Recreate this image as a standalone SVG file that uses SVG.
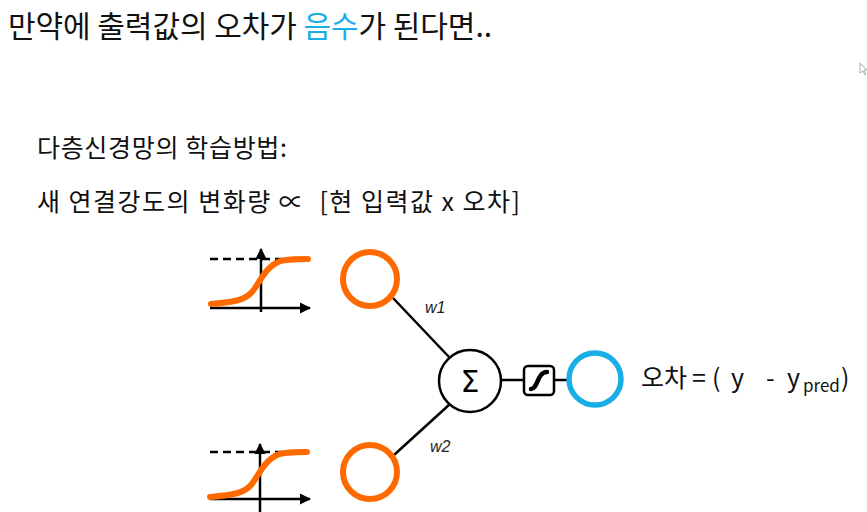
<svg xmlns="http://www.w3.org/2000/svg" width="867" height="512" viewBox="0 0 867 512">
<defs>
<style>
.t{font-family:"Noto Sans CJK KR","Noto Sans",sans-serif;fill:#111}
.ax{stroke:#000;stroke-width:2.5;fill:none}
.dash{stroke:#000;stroke-width:2.5;stroke-dasharray:8 5;fill:none}
.sig{stroke:#FF6A00;stroke-width:6;fill:none;stroke-linecap:round}
.in{stroke:#FF6A00;stroke-width:6;fill:#fff}
.out{stroke:#1AAEE6;stroke-width:5.5;fill:#fff}
.ln{stroke:#000;stroke-width:2.5;fill:none}
.w{font-family:"Liberation Sans",Arial,sans-serif;font-style:italic;font-size:16px;fill:#222}
</style>
<marker id="ah" viewBox="0 0 10 10" refX="9" refY="5" markerWidth="4.5" markerHeight="4.5" orient="auto" markerUnits="strokeWidth">
<path d="M0,0 L10,5 L0,10 z" fill="#000"/>
</marker>
</defs>
<rect width="867" height="512" fill="#fff"/>
<text class="t" x="8" y="37" font-size="30" textLength="484" lengthAdjust="spacing">만약에 출력값의 오차가 <tspan fill="#1AAEE6">음수</tspan>가 된다면..</text>
<text class="t" x="37" y="157" font-size="25" textLength="250" lengthAdjust="spacing">다층신경망의 학습방법:</text>
<text class="t" x="37" y="211" font-size="25" textLength="483" lengthAdjust="spacing" xml:space="preserve">새 연결강도의 변화량 ∝  [현 입력값 x 오차]</text>
<path d="M860,63 L860,73 L863,71 L865,75 L866,74 L864,70 L867,70 Z" fill="#fff" stroke="#999" stroke-width="0.8"/>
<g id="plot1">
<line class="dash" x1="210" y1="259" x2="312" y2="259"/>
<line class="ax" x1="261" y1="312" x2="261" y2="249" marker-end="url(#ah)"/>
<line class="ax" x1="210" y1="308" x2="310" y2="308" marker-end="url(#ah)"/>
<path class="sig" d="M211,304 C235,302 245,300 252,292 C260,282 265,268 278,262 C285,259 295,259 308,259"/>
</g>
<g id="plot2">
<line class="dash" x1="210" y1="452" x2="312" y2="452"/>
<line class="ax" x1="260" y1="512" x2="260" y2="444" marker-end="url(#ah)"/>
<line class="ax" x1="210" y1="499" x2="310" y2="499" marker-end="url(#ah)"/>
<path class="sig" d="M210,497 C234,495 244,493 251,485 C259,475 264,461 277,455 C284,452 294,452 307,452"/>
</g>
<g id="connectors">
<line class="ln" x1="393" y1="298" x2="449" y2="357"/>
<line class="ln" x1="394" y1="455" x2="450" y2="404"/>
<line class="ln" x1="501" y1="380" x2="524" y2="380"/>
<line class="ln" x1="554" y1="380" x2="568" y2="380"/>
<text class="w" x="425" y="313">w1</text>
<text class="w" x="430" y="452">w2</text>
</g>
<g id="in1"><circle class="in" cx="370" cy="279" r="27"/></g>
<g id="in2"><circle class="in" cx="370" cy="472" r="27"/></g>
<g id="sum">
<circle cx="470" cy="381" r="31" fill="#fff" stroke="#000" stroke-width="2.5"/>
<text x="470" y="392" font-family="'DejaVu Sans',sans-serif" font-size="30" text-anchor="middle" fill="#000">Σ</text>
</g>
<g id="act">
<rect x="524" y="366" width="30" height="29" rx="4" fill="#fff" stroke="#000" stroke-width="2.5"/>
<path d="M531,389 C538,389 537,372 547,372" stroke="#000" stroke-width="4.5" fill="none" stroke-linecap="round"/>
</g>
<g id="out"><circle class="out" cx="595" cy="379" r="26"/></g>
<g id="err">
<text class="t" y="387" font-size="25"><tspan x="641">오차</tspan><tspan x="692">=</tspan><tspan x="712">(</tspan><tspan x="731">y</tspan><tspan x="766">-</tspan><tspan x="787">y</tspan><tspan x="803" y="392" font-size="17">pred</tspan><tspan x="841" y="387">)</tspan></text>
</g>
</svg>
